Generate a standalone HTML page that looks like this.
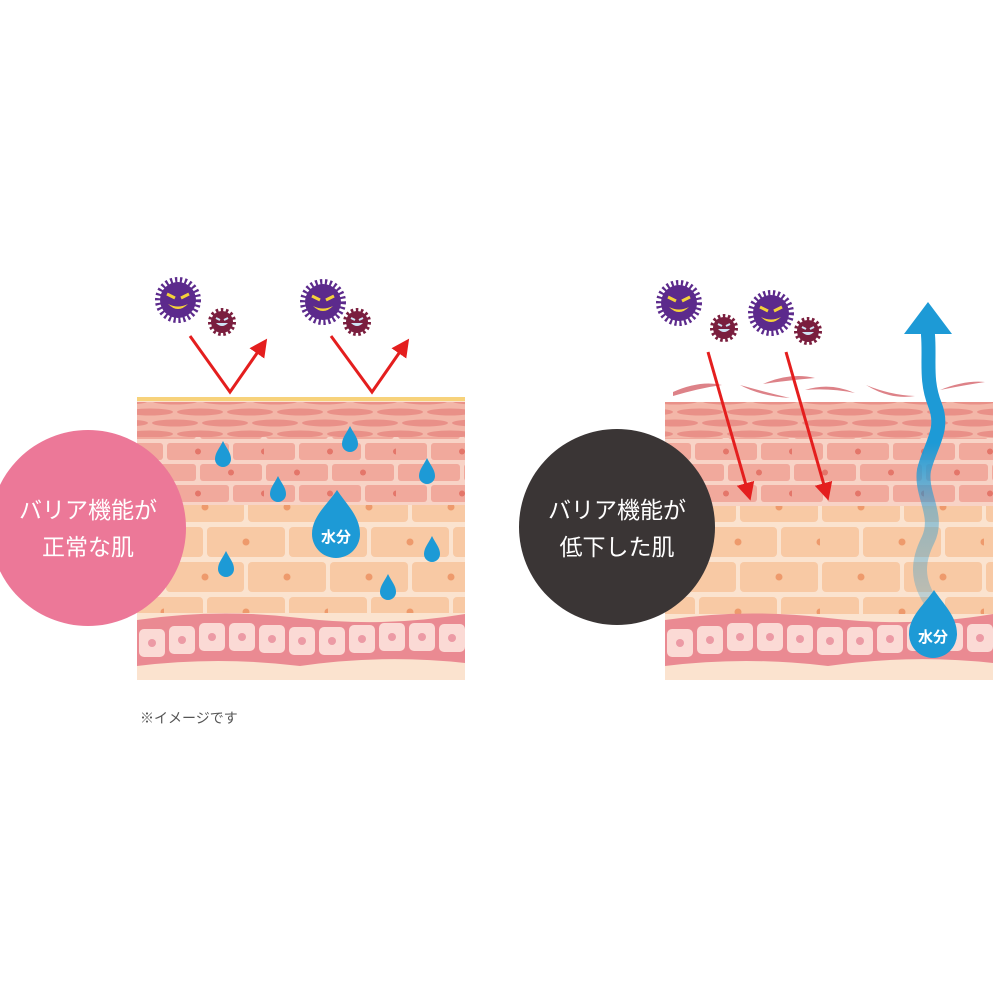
<!DOCTYPE html><html><head><meta charset="utf-8"><style>
body{margin:0;background:#fff;width:1000px;height:1000px;overflow:hidden;font-family:"Liberation Sans","Noto Sans CJK JP",sans-serif}
</style></head><body>
<svg width="1000" height="1000" viewBox="0 0 1000 1000" xmlns="http://www.w3.org/2000/svg">
<defs>
<pattern id="sc" width="50" height="22" patternUnits="userSpaceOnUse">
<rect width="50" height="22" fill="#f3b6a8"/>
<ellipse cx="25" cy="5" rx="23" ry="3.5" fill="#e99088"/>
<ellipse cx="0" cy="16" rx="23" ry="3.5" fill="#e99088"/>
<ellipse cx="50" cy="16" rx="23" ry="3.5" fill="#e99088"/>
</pattern>
<pattern id="pb" width="132" height="42" patternUnits="userSpaceOnUse">
<rect width="132" height="42" fill="#f8d3c6"/>
<rect x="2" y="2" width="62" height="17" rx="3" fill="#f1a99c"/><circle cx="33" cy="10.5" r="3" fill="#e4766a"/>
<rect x="68" y="2" width="62" height="17" rx="3" fill="#f1a99c"/><circle cx="99" cy="10.5" r="3" fill="#e4766a"/>
<rect x="-31" y="23" width="62" height="17" rx="3" fill="#f1a99c"/>
<rect x="35" y="23" width="62" height="17" rx="3" fill="#f1a99c"/><circle cx="66" cy="31.5" r="3" fill="#e4766a"/>
<rect x="101" y="23" width="62" height="17" rx="3" fill="#f1a99c"/><circle cx="132" cy="31.5" r="3" fill="#e4766a"/>
</pattern>
<pattern id="ob" width="164" height="70" patternUnits="userSpaceOnUse">
<rect width="164" height="70" fill="#fbe3cf"/>
<rect x="2" y="2" width="78" height="30" rx="4" fill="#f8c9a4"/><circle cx="41" cy="17" r="3.5" fill="#ee9a6c"/>
<rect x="84" y="2" width="78" height="30" rx="4" fill="#f8c9a4"/><circle cx="123" cy="17" r="3.5" fill="#ee9a6c"/>
<rect x="-39" y="37" width="78" height="30" rx="4" fill="#f8c9a4"/>
<rect x="43" y="37" width="78" height="30" rx="4" fill="#f8c9a4"/><circle cx="82" cy="52" r="3.5" fill="#ee9a6c"/>
<rect x="125" y="37" width="78" height="30" rx="4" fill="#f8c9a4"/><circle cx="164" cy="52" r="3.5" fill="#ee9a6c"/>
</pattern>
<g id="cell"><rect x="-13" y="-14" width="26" height="28" rx="5" fill="#fbdad5"/><circle r="4" fill="#ec9aa5"/></g>
<g id="band">
<path d="M0,620 Q80,608 163,618 T328,614 L328,663 Q245,676 163,666 T0,666Z" fill="#ea8a92"/>
<use href="#cell" x="15" y="643"/><use href="#cell" x="45" y="640"/><use href="#cell" x="75" y="637"/>
<use href="#cell" x="105" y="637"/><use href="#cell" x="135" y="639"/><use href="#cell" x="165" y="641"/>
<use href="#cell" x="195" y="641"/><use href="#cell" x="225" y="639"/><use href="#cell" x="255" y="637"/>
<use href="#cell" x="285" y="637"/><use href="#cell" x="315" y="638"/>
<path d="M0,666 Q80,678 163,666 T328,663 L328,680 L0,680Z" fill="#fbe3cf"/>
</g>
<g id="vb"><circle r="20" fill="none" stroke="#5c2a8c" stroke-width="6" stroke-dasharray="2.2 2.6"/><circle r="18" fill="#5c2a8c"/>
<path d="M-11,-6 L-3,-2 M11,-6 L3,-2" stroke="#f4d23a" stroke-width="3"/><path d="M-10,4 Q0,14 10,4 Q0,9 -10,4Z" fill="#f4d23a"/></g>
<g id="vs"><circle r="12" fill="none" stroke="#7a1e3e" stroke-width="4" stroke-dasharray="2.5 2.5"/><circle r="11" fill="#7a1e3e"/>
<path d="M-6,1 Q0,7 6,1Z" fill="#cfe3f4"/><path d="M-6,-4 L-2,-2 M6,-4 L2,-2" stroke="#cfe3f4" stroke-width="2"/></g>
<path id="dr" d="M0,-14 C4,-6 8,-2 8,4 A8,8 0 0 1 -8,4 C-8,-2 -4,-6 0,-14Z" fill="#1d9ad6"/>
<linearGradient id="wg" x1="0" y1="1" x2="0" y2="0"><stop offset="0" stop-color="#1d9ad6" stop-opacity="0.25"/><stop offset="0.35" stop-color="#1d9ad6" stop-opacity="0.45"/><stop offset="0.6" stop-color="#1d9ad6"/><stop offset="1" stop-color="#1d9ad6"/></linearGradient>
<marker id="ah" markerWidth="6" markerHeight="6" refX="3" refY="3" orient="auto" markerUnits="strokeWidth"><path d="M0,0 L6,3 L0,6Z" fill="#e41e1e"/></marker>
</defs>

<!-- LEFT PANEL -->
<rect x="137" y="398" width="328" height="282" fill="#fbe3cf"/>
<rect x="137" y="402" width="328" height="35" fill="url(#sc)"/>
<rect x="137" y="437" width="328" height="68" fill="url(#pb)"/>
<rect x="137" y="505" width="328" height="108" fill="url(#ob)"/>
<use href="#band" x="137" y="0"/>
<rect x="137" y="397" width="328" height="4" fill="#f7d27a"/>
<use href="#dr" x="223" y="455"/><use href="#dr" x="350" y="440"/><use href="#dr" x="427" y="472"/>
<use href="#dr" x="278" y="490"/><use href="#dr" x="226" y="565"/><use href="#dr" x="432" y="550"/>
<use href="#dr" x="388" y="588"/>
<path d="M337,490 C346,504 360,516 360,534 A24,24 0 0 1 312,534 C312,516 328,504 337,490Z" fill="#1d9ad6"/>
<text x="336" y="542" font-size="15" fill="#fff" text-anchor="middle" font-weight="bold">水分</text>

<polyline points="190,336 230,392 262,346" fill="none" stroke="#e41e1e" stroke-width="3" marker-end="url(#ah)"/>
<polyline points="331,336 372,392 404,346" fill="none" stroke="#e41e1e" stroke-width="3" marker-end="url(#ah)"/>
<use href="#vb" x="178" y="300"/><use href="#vs" x="222" y="322"/>
<use href="#vb" x="323" y="302"/><use href="#vs" x="357" y="322"/>

<circle cx="88" cy="528" r="98" fill="#ec7898"/>
<text x="88" y="518" font-size="23" fill="#fff" text-anchor="middle">バリア機能が</text>
<text x="88" y="555" font-size="23" fill="#fff" text-anchor="middle">正常な肌</text>
<text x="140" y="723" font-size="14" fill="#555">※イメージです</text>

<!-- RIGHT PANEL -->
<rect x="665" y="402" width="328" height="278" fill="#fbe3cf"/>
<rect x="665" y="402" width="328" height="36" fill="url(#sc)"/>
<rect x="665" y="438" width="328" height="68" fill="url(#pb)"/>
<rect x="665" y="506" width="328" height="108" fill="url(#ob)"/>
<use href="#band" x="665" y="0"/>
<g fill="#dd8288">
<path d="M673,392 Q700,380 722,385 Q700,388 673,396Z"/>
<path d="M740,385 Q760,396 790,398 Q765,392 740,385Z"/>
<path d="M763,384 Q790,372 815,378 Q790,380 763,384Z"/>
<path d="M805,390 Q830,382 855,393 Q830,388 805,390Z"/>
<path d="M866,385 Q890,400 915,396 Q890,395 866,385Z"/>
<path d="M940,390 Q965,380 985,382 Q965,385 940,390Z"/>
</g>
<line x1="708" y1="352" x2="748" y2="492" stroke="#e41e1e" stroke-width="3" marker-end="url(#ah)"/>
<line x1="786" y1="352" x2="826" y2="492" stroke="#e41e1e" stroke-width="3" marker-end="url(#ah)"/>
<use href="#vb" x="679" y="303"/><use href="#vs" x="724" y="328"/>
<use href="#vb" x="771" y="313"/><use href="#vs" x="808" y="331"/>

<path d="M933,605 C915,580 918,560 928,540 C940,515 920,495 924,470 C930,445 945,430 935,405 C925,380 930,360 928,335" fill="none" stroke="url(#wg)" stroke-width="14" stroke-linecap="round"/>
<path d="M904,334 L928,302 L952,334Z" fill="#1d9ad6"/>
<path d="M934,590 C943,604 957,616 957,634 A24,24 0 0 1 909,634 C909,616 925,604 934,590Z" fill="#1d9ad6"/>
<text x="933" y="642" font-size="15" fill="#fff" text-anchor="middle" font-weight="bold">水分</text>

<circle cx="617" cy="527" r="98" fill="#3a3535"/>
<text x="617" y="518" font-size="23" fill="#fff" text-anchor="middle">バリア機能が</text>
<text x="617" y="555" font-size="23" fill="#fff" text-anchor="middle">低下した肌</text>
</svg>
</body></html>
